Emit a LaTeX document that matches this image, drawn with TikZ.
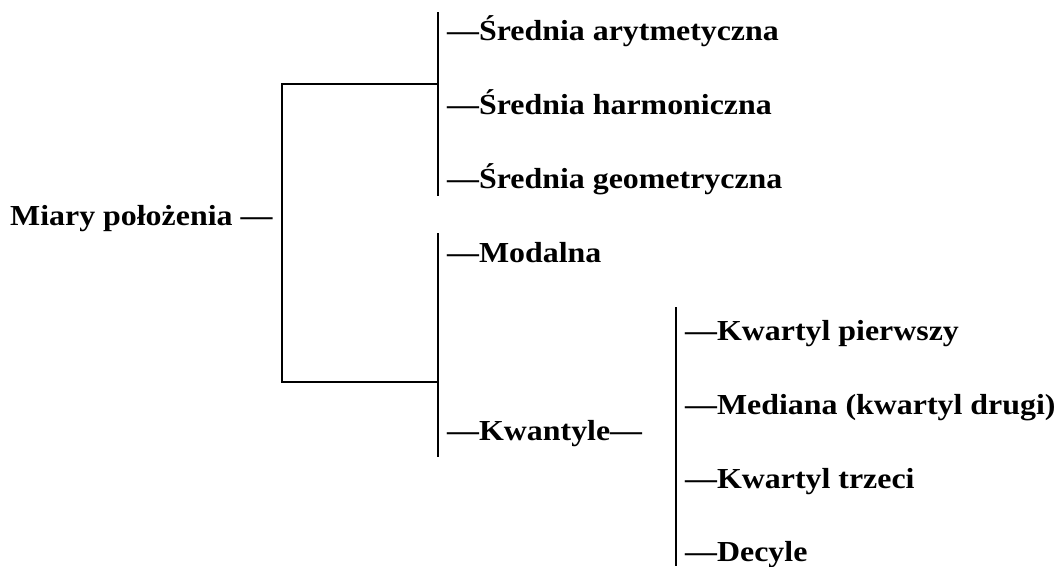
\documentclass[tikz,border=0pt]{standalone}
\usepackage{fontspec}
\newfontfamily\tnrb{Liberation Serif}[UprightFont=* Bold, FakeStretch=1.1]
\tikzset{
  lbl/.style={anchor=base west, inner sep=0pt, font=\tnrb\fontsize{29}{34}\selectfont},
  brk/.style={line width=2pt, line cap=butt}
}
\begin{document}
\begin{tikzpicture}[x=1pt,y=-1pt]
\useasboundingbox (0,0) rectangle (1060,566);
% labels
\node[lbl] (miary) at (10,225) {Miary położenia —};
\node[lbl] (sa) at (447,40) {—Średnia arytmetyczna};
\node[lbl] (sh) at (447,114) {—Średnia harmoniczna};
\node[lbl] (sg) at (447,188) {—Średnia geometryczna};
\node[lbl] (mod) at (447,262) {—Modalna};
\node[lbl] (kw) at (447,440) {—Kwantyle—};
\node[lbl] (k1) at (685,340) {—Kwartyl pierwszy};
\node[lbl] (k2) at (685,414) {—Mediana (kwartyl drugi)};
\node[lbl] (k3) at (685,488) {—Kwartyl trzeci};
\node[lbl] (dec) at (685,561) {—Decyle};
% bracket coordinates
\coordinate (g1t) at (438,12);
\coordinate (g1b) at (438,196);
\coordinate (g2t) at (438,233);
\coordinate (g2b) at (438,457);
\coordinate (g3t) at (676,307);
\coordinate (g3b) at (676,566);
\coordinate (bt) at (438,84);
\coordinate (bb) at (438,382);
\coordinate (bl) at (282,84);
\coordinate (bl2) at (282,382);
% lines
\draw[brk] (g1t) -- (g1b);
\draw[brk] (g2t) -- (g2b);
\draw[brk] (g3t) -- (g3b);
\draw[brk] (bt) -- (bl) -- (bl2) -- (bb);
\end{tikzpicture}
\end{document}
